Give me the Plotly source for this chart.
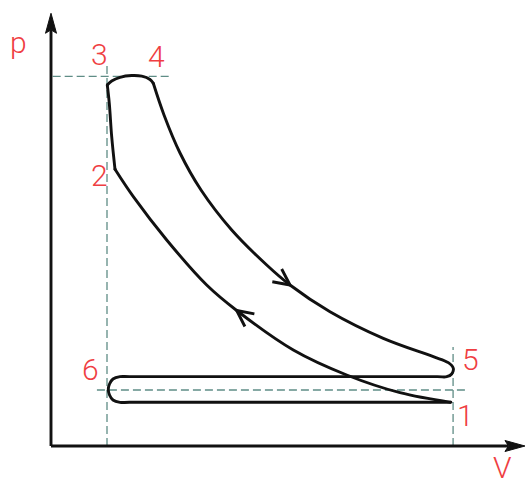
import numpy as np
import plotly.graph_objects as go

# Reference levels (V in clearance-volume units, p in units of ambient pressure)
V_c = 1.0      # clearance volume
V_a = 7.18     # total cylinder volume
p_max = 6.6    # peak cycle pressure
p_0 = 1.0      # ambient pressure

# 1 -> 2 : compression
comp_V = [7.14, 6.232, 5.280, 4.327, 3.316, 2.780, 2.066, 1.470, 1.143]
comp_p = [0.78, 0.952, 1.268, 1.714, 2.420, 2.875, 3.679, 4.452, 4.941]

# 2 -> 3 : pressure rise near TDC
rise_V = [1.143, 1.084, 1.041, 1.005]
rise_p = [4.941, 5.523, 6.119, 6.446]

# 3 -> 4 : combustion at near-constant pressure
comb_V = [1.005, 1.084, 1.232, 1.441, 1.620, 1.768, 1.827]
comb_p = [6.446, 6.518, 6.584, 6.615, 6.604, 6.545, 6.477]

# 4 -> 5 : expansion
exp_V = [1.827, 2.018, 2.304, 2.679, 3.227, 3.852, 4.268, 4.982, 5.934, 6.827, 7.095, 7.184]
exp_p = [6.477, 5.911, 5.232, 4.571, 3.857, 3.232, 2.875, 2.398, 1.923, 1.595, 1.488, 1.388]

# 5 -> 6 -> 1 : exhaust and intake strokes
gx_V = [7.184, 7.155, 7.066, 6.9, 1.4, 1.232, 1.107, 1.045, 1.023, 1.045, 1.107,
        1.232, 1.4, 6.9, 7.14]
gx_p = [1.388, 1.286, 1.238, 1.238, 1.238, 1.238, 1.196, 1.107, 1.009, 0.911, 0.821,
        0.780, 0.780, 0.780, 0.780]

# state points and their labels
state_labels = ["1", "2", "3", "4", "5", "6"]
state_V = [7.14, 1.143, 1.005, 1.827, 7.184, 1.023]
state_p = [0.78, 4.941, 6.446, 6.477, 1.388, 1.009]
label_shift = {"1": (15, -13), "2": (-16, -6), "3": (-8, 31), "4": (3, 27),
               "5": (17, 9), "6": (-18, 20)}

# direction arrows on expansion and compression lines (tip positions)
arrow_V = [4.268, 3.316]
arrow_p = [2.875, 2.420]

# axis extents
V_axis_end = 8.464
p_axis_end = 7.727

PX = 56.0  # pixels per unit on both axes
LINE = "#111111"
GUIDE = "#5f8d86"
RED = "#ef3e42"
LW = 2.9

fig = go.Figure()


def curve(V, p):
    fig.add_trace(go.Scatter(x=V, y=p, mode="lines",
                             line=dict(color=LINE, width=LW, shape="spline", smoothing=1.0),
                             hoverinfo="skip"))


curve(comp_V, comp_p)
curve(rise_V, rise_p)
curve(comb_V, comb_p)
curve(exp_V + gx_V[1:], exp_p + gx_p[1:])

# round off the corners where the segments meet
fig.add_trace(go.Scatter(x=state_V[:4], y=state_p[:4], mode="markers",
                         marker=dict(color=LINE, size=LW), hoverinfo="skip"))


def unit(dx, dy):
    n = np.hypot(dx, dy)
    return dx / n, dy / n


def rot(d, ang):
    c, s = np.cos(ang), np.sin(ang)
    return d[0] * c - d[1] * s, d[0] * s + d[1] * c


# open chevrons showing the direction of travel (barb - tip - barb)
chev_x, chev_y = [], []
for (tv, tp, cV, cp) in [(arrow_V[0], arrow_p[0], exp_V, exp_p),
                         (arrow_V[1], arrow_p[1], comp_V, comp_p)]:
    cV = np.array(cV)
    cp = np.array(cp)
    i = int(np.argmin(np.abs(cV - tv)))
    i0, i1 = max(i - 1, 0), min(i + 1, len(cV) - 1)
    d = unit(cV[i1] - cV[i0], cp[i1] - cp[i0])
    L = 18 / PX
    b1 = rot(d, np.radians(26))
    b2 = rot(d, -np.radians(26))
    chev_x += [tv - L * b1[0], tv, tv - L * b2[0], None]
    chev_y += [tp - L * b1[1], tp, tp - L * b2[1], None]
fig.add_trace(go.Scatter(x=chev_x, y=chev_y, mode="lines",
                         line=dict(color=LINE, width=LW), hoverinfo="skip"))

# axes with filled arrowheads
HL, HW, HN = 20 / PX, 5.5 / PX, 3.5 / PX
for tip, d in [((0, p_axis_end), (0, 1)), ((V_axis_end, 0), (1, 0))]:
    n = (-d[1], d[0])
    base = (tip[0] - d[0] * HL, tip[1] - d[1] * HL)
    notch = (base[0] + d[0] * HN, base[1] + d[1] * HN)
    fig.add_trace(go.Scatter(x=[0, notch[0]], y=[0, notch[1]], mode="lines",
                             line=dict(color=LINE, width=2.9), hoverinfo="skip"))
    fig.add_trace(go.Scatter(
        x=[tip[0], base[0] + n[0] * HW, notch[0], base[0] - n[0] * HW, tip[0]],
        y=[tip[1], base[1] + n[1] * HW, notch[1], base[1] - n[1] * HW, tip[1]],
        mode="lines", fill="toself", fillcolor=LINE,
        line=dict(color=LINE, width=1), hoverinfo="skip"))

# dashed guide lines
guide = dict(color=GUIDE, width=1.3, dash="8px,4px")
fig.add_shape(type="line", x0=V_c, x1=V_c, y0=0, y1=p_max + 0.2, line=guide, layer="below")
fig.add_shape(type="line", x0=0.03, x1=2.16, y0=p_max, y1=p_max, line=guide, layer="below")
fig.add_shape(type="line", x0=0.82, x1=7.45, y0=p_0, y1=p_0, line=guide, layer="below")
fig.add_shape(type="line", x0=V_a, x1=V_a, y0=0, y1=1.77, line=guide, layer="below")

font = dict(family="Roboto", size=30, color=RED, weight=300)
for lab, v, p in zip(state_labels, state_V, state_p):
    dx, dy = label_shift[lab]
    fig.add_annotation(x=v, y=p, text=lab, showarrow=False, xshift=dx, yshift=dy, font=font)
fig.add_annotation(x=0, y=p_axis_end, text="p", showarrow=False, xshift=-33, yshift=-29, font=font)
fig.add_annotation(x=V_axis_end, y=0, text="V", showarrow=False, xshift=-22, yshift=-21, font=font)

fig.update_layout(
    width=526, height=488,
    margin=dict(l=0, r=0, t=0, b=0, autoexpand=False),
    paper_bgcolor="white", plot_bgcolor="white",
    showlegend=False,
    xaxis=dict(range=[-51 / PX, 475 / PX], visible=False, fixedrange=True),
    yaxis=dict(range=[-42 / PX, 446 / PX], visible=False, fixedrange=True),
)

fig.write_html("out.html")
